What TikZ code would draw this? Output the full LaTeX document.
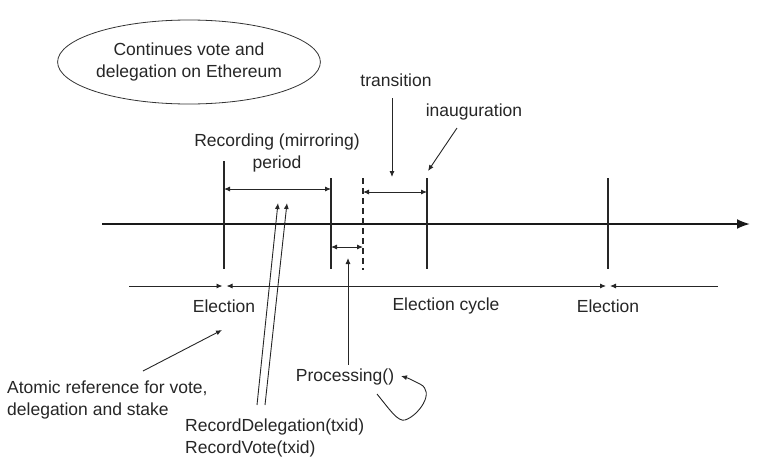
\documentclass[tikz,border=0pt]{standalone}
\usepackage{fontspec}
\setmainfont{Liberation Sans}
\usetikzlibrary{arrows.meta,shapes.geometric}
\begin{document}
\begin{tikzpicture}[x=1pt,y=-1pt,
  lbl/.style={inner sep=0pt, font=\fontsize{17.5}{21.5}\selectfont, text=black!85},
  tickline/.style={line width=1.3pt, draw=black!85},
  dimarrow/.style={line width=0.9pt, draw=black!85, {Latex[length=6pt,width=5pt]}-{Latex[length=6pt,width=5pt]}},
  ptr/.style={line width=0.9pt, draw=black!85, -{Latex[length=6pt,width=5pt]}},
  rptr/.style={line width=0.9pt, draw=black!85, {Latex[length=6pt,width=5pt]}-},
]
\useasboundingbox (0,0) rectangle (769,469);

% ellipse note
\node[lbl, ellipse, draw=black!80, line width=0.8pt, align=center,
      minimum width=234pt, minimum height=84pt] (cloud) at (189,62)
      {Continues vote and\\delegation on Ethereum};

% main time axis
\coordinate (axS) at (102,224);
\coordinate (axE) at (750,224);
\draw[line width=2pt, draw=black!90, -{Latex[length=13pt,width=10pt]}] (axS) -- (axE);

% vertical marks
\coordinate (v1t) at (224,161); \coordinate (v1b) at (224,269);
\coordinate (v2t) at (331,178); \coordinate (v2b) at (331,269);
\coordinate (v3t) at (363,178); \coordinate (v3b) at (363,270);
\coordinate (v4t) at (427,178); \coordinate (v4b) at (427,269);
\coordinate (v5t) at (608,178); \coordinate (v5b) at (608,269);
\draw[tickline] (v1t) -- (v1b);
\draw[tickline] (v2t) -- (v2b);
\draw[tickline, dash pattern=on 6pt off 4pt] (v3t) -- (v3b);
\draw[tickline] (v4t) -- (v4b);
\draw[tickline] (v5t) -- (v5b);

% interval arrows
\coordinate (r1) at (224,189); \coordinate (r2) at (331,189);
\draw[dimarrow] (r1) -- (r2);
\coordinate (p1) at (331,247); \coordinate (p2) at (363,247);
\draw[dimarrow] (p1) -- (p2);
\coordinate (t1) at (363,192); \coordinate (t2) at (427,192);
\draw[dimarrow] (t1) -- (t2);

% bottom election line
\coordinate (b0) at (129,286);
\coordinate (b1) at (222.5,286);
\coordinate (b2) at (226.5,286);
\coordinate (b3) at (606,286);
\coordinate (b4) at (610,286);
\coordinate (b5) at (718,286);
\draw[ptr] (b0) -- (b1);
\draw[dimarrow] (b2) -- (b3);
\draw[rptr] (b4) -- (b5);

% labels
\node[lbl, align=center] (rec) at (277,153) {Recording (mirroring)\\period};
\node[lbl] (trans) at (396,80) {transition};
\node[lbl] (inaug) at (474,112) {inauguration};
\node[lbl] (el1) at (224,306) {Election};
\node[lbl] (cyc) at (446,306) {Election cycle};
\node[lbl] (el2) at (608,306) {Election};
\node[lbl, align=left, anchor=west] (atomic) at (7,400) {Atomic reference for vote,\\delegation and stake};
\node[lbl, align=left, anchor=west] (record) at (185,438) {RecordDelegation(txid)\\RecordVote(txid)};
\node[lbl] (proc) at (345,377) {Processing()};

% pointer arrows
\coordinate (transS) at (392,98); \coordinate (transE) at (392,177);
\draw[ptr] (transS) -- (transE);
\coordinate (inS) at (457,128); \coordinate (inE) at (428,171);
\draw[ptr] (inS) -- (inE);
\coordinate (atS) at (143,371); \coordinate (atE) at (222,330);
\draw[ptr] (atS) -- (atE);
\coordinate (rdS) at (257,405); \coordinate (rdE) at (278,203);
\coordinate (rvS) at (265,405); \coordinate (rvE) at (287,203);
\draw[ptr] (rdS) -- (rdE);
\draw[ptr] (rvS) -- (rvE);
\coordinate (prE) at (348,258);
\draw[ptr] (proc.north -| prE) ++(0,-4) -- (prE);

% self loop on Processing()
\coordinate (lpS) at (377,394);
\coordinate (lpE) at (401,376);
\draw[ptr] (lpS) .. controls (390,410) and (398,422) .. (405,420)
  .. controls (418,416) and (436,392) .. (420,384)
  .. controls (414,381) and (408,378) .. (lpE);
\end{tikzpicture}
\end{document}
